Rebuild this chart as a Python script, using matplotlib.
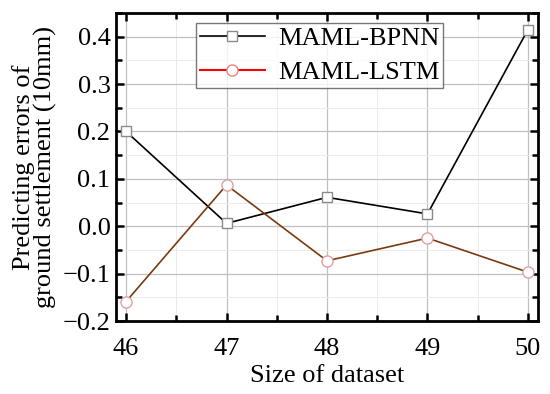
import matplotlib
matplotlib.use("Agg")
import matplotlib.pyplot as plt
from matplotlib.ticker import MultipleLocator

plt.rcParams['font.family'] = ['Liberation Serif', 'DejaVu Serif']
plt.rcParams['mathtext.fontset'] = 'stix'

sizes = [46, 47, 48, 49, 50]
bpnn = [0.200, 0.006, 0.061, 0.026, 0.415]
lstm = [-0.159, 0.087, -0.073, -0.025, -0.097]

fig = plt.figure(figsize=(5.5, 3.94), dpi=100)
ax = fig.add_axes([116/550, 1-321/394, (538-116)/550, (321-13)/394])

ax.plot(sizes, bpnn, color='black', lw=1.2, marker='s', ms=7.5,
        mfc='white', mec='#8a8a8a', mew=1.0, label='MAML-BPNN', zorder=3)
ax.plot(sizes, lstm, color='#7a3a10', lw=1.2, marker='o', ms=8,
        mfc='white', mec='#e0a0a0', mew=1.0, label='_nolegend_', zorder=3)
# legend proxy in red
ax.plot([], [], color='red', lw=1.5, marker='o', ms=8, mfc='white',
        mec='#f08080', mew=1.0, label='MAML-LSTM')

ax.set_xlim(45.9, 50.1)
ax.set_ylim(-0.2, 0.45)
ax.xaxis.set_major_locator(MultipleLocator(1))
ax.xaxis.set_minor_locator(MultipleLocator(0.5))
ax.yaxis.set_minor_locator(MultipleLocator(0.05))
ax.set_yticks([-0.2, -0.1, 0.0, 0.1, 0.2, 0.3, 0.4])
ax.set_yticklabels(['\u22120.2', '\u22120.1', '0.0', '0.1', '0.2', '0.3', '0.4'])

ax.grid(which='major', color='#c0c0c0', lw=0.9)
ax.grid(which='minor', color='#ebebeb', lw=0.7)
ax.set_axisbelow(True)

for s in ax.spines.values():
    s.set_linewidth(2.0)
ax.tick_params(which='both', direction='in', top=True, right=True, width=1.8, labelsize=19)
ax.tick_params(which='major', length=6)
ax.tick_params(which='minor', length=4)
ax.tick_params(axis='x', pad=12)
ax.tick_params(axis='y', pad=4)

ax.set_xlabel('Size of dataset', fontsize=19, labelpad=4)
ax.set_ylabel('Predicting errors of\nground settlement (10mm)', fontsize=19, linespacing=0.95, labelpad=4)

leg = ax.legend(loc='upper left', bbox_to_anchor=(0.19, 0.968), fontsize=19,
                frameon=True, fancybox=False, edgecolor='#555555',
                handlelength=2.45, borderpad=0.15, labelspacing=0.4, handletextpad=0.5,
                borderaxespad=0)
leg.get_frame().set_linewidth(1.0)

fig.savefig('out.png', dpi=100)
